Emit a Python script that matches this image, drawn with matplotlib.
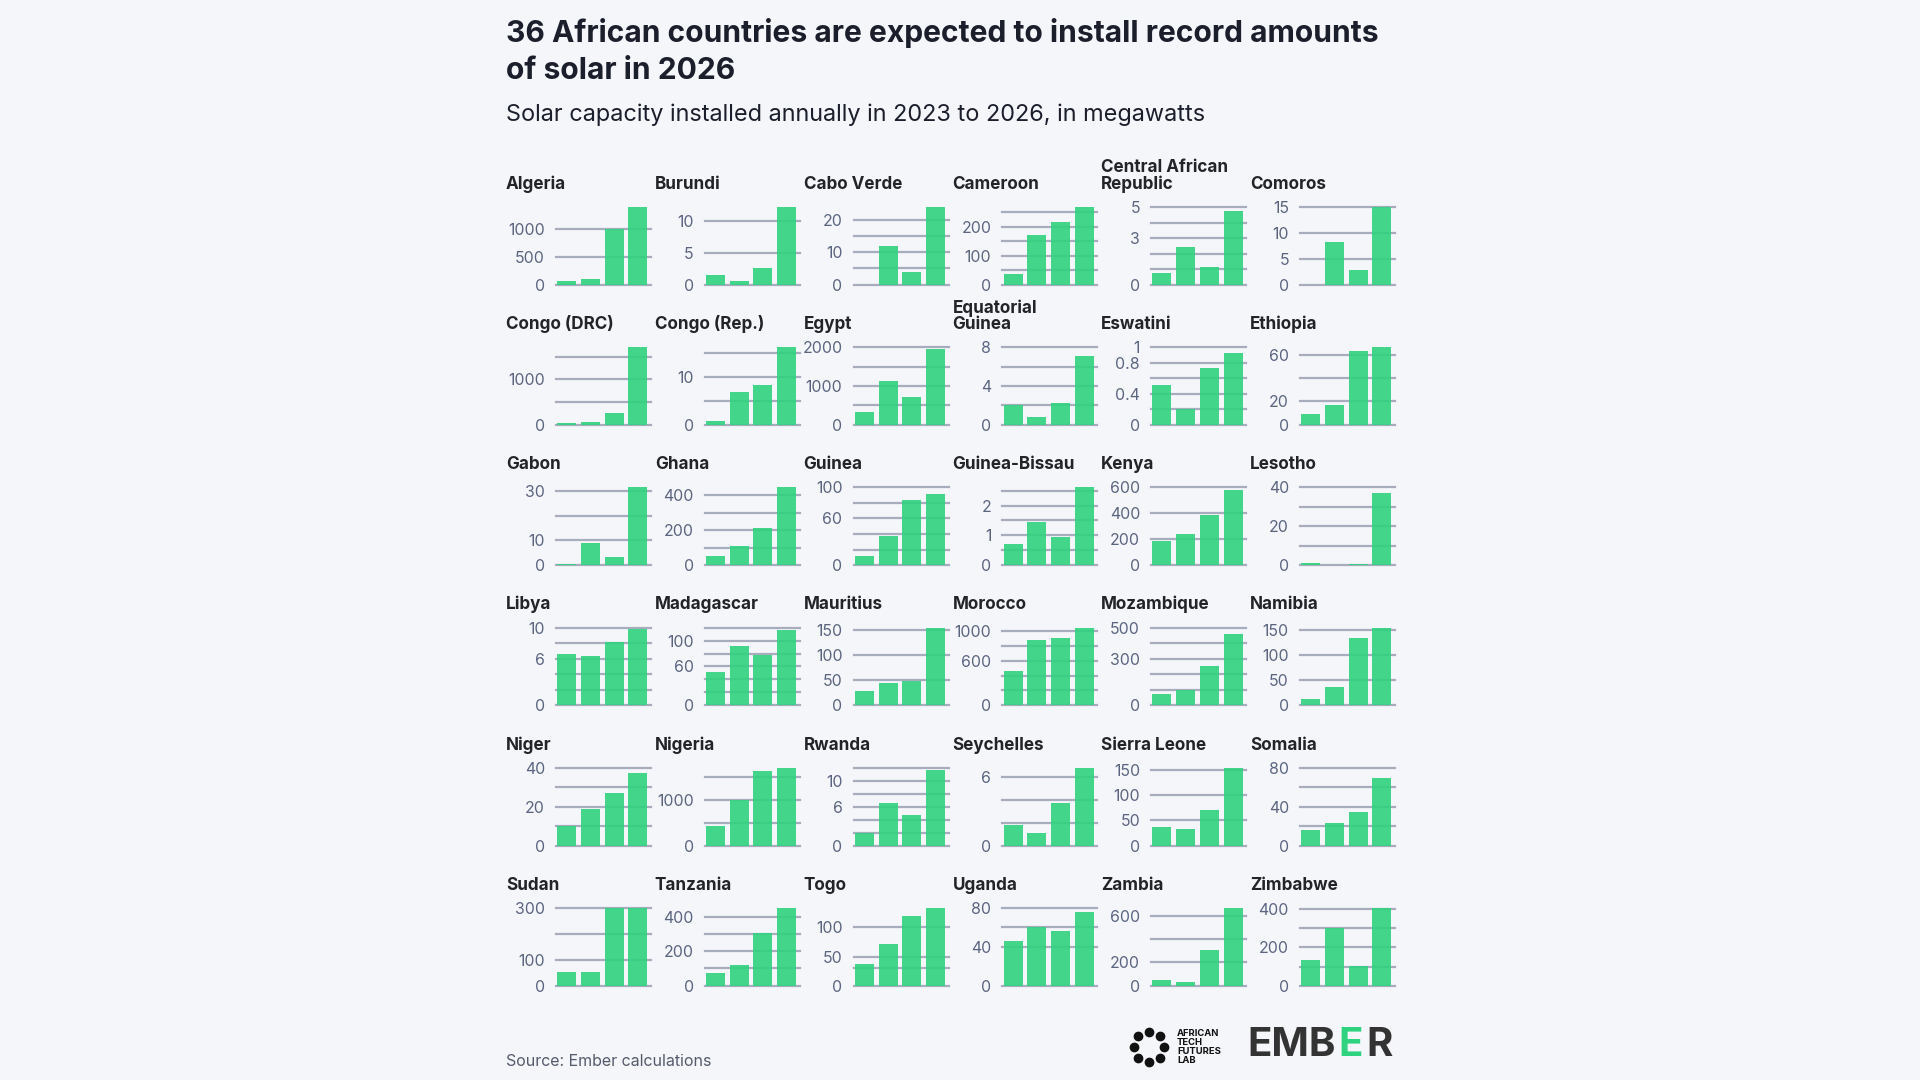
import matplotlib
matplotlib.use("Agg")
import matplotlib.pyplot as plt
import numpy as np

# data (MW installed per year)
countries = ["Algeria", "Burundi", "Cabo Verde", "Cameroon", "Central African\nRepublic", "Comoros",
             "Congo (DRC)", "Congo (Rep.)", "Egypt", "Equatorial\nGuinea", "Eswatini", "Ethiopia",
             "Gabon", "Ghana", "Guinea", "Guinea-Bissau", "Kenya", "Lesotho",
             "Libya", "Madagascar", "Mauritius", "Morocco", "Mozambique", "Namibia",
             "Niger", "Nigeria", "Rwanda", "Seychelles", "Sierra Leone", "Somalia",
             "Sudan", "Tanzania", "Togo", "Uganda", "Zambia", "Zimbabwe"]

y2023 = [75, 1.6, 0, 36, 0.75, 0,
         35, 0.9, 333, 2.07, 0.52, 9.5,
         0.5, 51, 12, 0.72, 184, 1.0,
         6.6, 51, 28, 461, 72, 13,
         10, 424, 1.9, 1.8, 36, 16,
         51, 76, 37, 46, 50, 133]
y2024 = [99, 0.65, 12, 171, 2.4, 8.3,
         60, 6.9, 1142, 0.83, 0.21, 16.6,
         9, 111, 37, 1.45, 239, 0.2,
         6.4, 92, 45, 885, 99, 37,
         18.7, 1008, 6.5, 1.1, 33, 23,
         51, 122, 72, 60, 29, 299]
y2025 = [1000, 2.7, 3.8, 215, 1.15, 2.9,
         263, 8.3, 708, 2.27, 0.73, 63,
         3.4, 211, 84, 0.93, 386, 0.8,
         8.2, 78, 49, 903, 253, 134,
         26.9, 1644, 4.75, 3.7, 70, 34,
         300, 307, 119, 56, 303, 103]
y2026 = [1398, 12.2, 23.9, 268, 4.75, 15,
         1707, 16.2, 1950, 7.07, 0.93, 66.3,
         31.5, 445, 92, 2.61, 577, 37,
         9.8, 117, 154, 1046, 456, 155,
         37.5, 1705, 11.6, 6.76, 155, 70,
         300, 450, 133, 76, 665, 406]

grid_lines = [[0, 500, 1000], [0, 5, 10], [0, 5, 10, 15, 20], [0, 50, 100, 150, 200, 250],
              [0, 1, 2, 3, 4, 5], [0, 5, 10, 15],
              [0, 500, 1000, 1500], [0, 5, 10, 15], [0, 500, 1000, 1500, 2000], [0, 2, 4, 6, 8],
              [0, 0.2, 0.4, 0.6, 0.8, 1], [0, 20, 40, 60],
              [0, 10, 20, 30], [0, 100, 200, 300, 400], [0, 20, 40, 60, 80, 100],
              [0, 0.5, 1, 1.5, 2, 2.5], [0, 200, 400, 600], [0, 10, 20, 30, 40],
              [0, 2, 4, 6, 8, 10], [0, 20, 40, 60, 80, 100, 120], [0, 50, 100, 150],
              [0, 200, 400, 600, 800, 1000], [0, 100, 200, 300, 400, 500], [0, 50, 100, 150],
              [0, 10, 20, 30, 40], [0, 500, 1000, 1500], [0, 2, 4, 6, 8, 10, 12], [0, 2, 4, 6],
              [0, 50, 100, 150], [0, 20, 40, 60, 80],
              [0, 100, 200, 300], [0, 100, 200, 300, 400], [0, 30, 50, 100], [0, 40, 60, 80],
              [0, 200, 400, 600], [0, 100, 200, 300, 400]]

tick_labels = [[0, 500, 1000], [0, 5, 10], [0, 10, 20], [0, 100, 200], [0, 3, 5], [0, 5, 10, 15],
               [0, 1000], [0, 10], [0, 1000, 2000], [0, 4, 8], [0, 0.4, 0.8, 1], [0, 20, 60],
               [0, 10, 30], [0, 200, 400], [0, 60, 100], [0, 1, 2], [0, 200, 400, 600], [0, 20, 40],
               [0, 6, 10], [0, 60, 100], [0, 50, 100, 150], [0, 600, 1000], [0, 300, 500], [0, 50, 100, 150],
               [0, 20, 40], [0, 1000], [0, 6, 10], [0, 6], [0, 50, 100, 150], [0, 40, 80],
               [0, 100, 300], [0, 200, 400], [0, 50, 100], [0, 40, 80], [0, 200, 600], [0, 200, 400]]

title = "36 African countries are expected to install record amounts\nof solar in 2026"
subtitle = "Solar capacity installed annually in 2023 to 2026, in megawatts"
source = "Source: Ember calculations"

bg = "#f5f6fa"
green = "#2fd37f"
grid_c = "#a7adbd"
tick_c = "#5b6580"
dark = "#1b1e2b"

plt.rcParams["font.family"] = ["Inter", "DejaVu Sans"]

W, H = 1920, 1080
fig = plt.figure(figsize=(19.2, 10.8), dpi=100)
fig.patch.set_facecolor(bg)

fig.text(506 / W, 1 - 18 / H, title, ha="left", va="top", fontsize=21.6,
         fontweight="bold", color=dark, linespacing=1.42)
fig.text(506 / W, 1 - 115 / H, subtitle, ha="left", va="center", fontsize=16.9, color=dark)

for i, name in enumerate(countries):
    r, c = divmod(i, 6)
    left = 556 + 148.8 * c
    bottom = 284.7 + 140.2 * r
    ax = fig.add_axes([left / W, 1 - bottom / H, 95 / W, 80 / H])
    ax.patch.set_alpha(0)
    vals = [y2023[i], y2024[i], y2025[i], y2026[i]]
    for g in grid_lines[i]:
        ax.axhline(g, color=grid_c, lw=1.6, zorder=1, clip_on=False)
    ax.bar(range(4), vals, width=0.8, color=green, alpha=0.9, zorder=2)
    top = max(max(vals), max(grid_lines[i]))
    ax.set_ylim(0, top * 1.03)
    ax.set_xlim(-0.45, 3.55)
    ax.set_xticks([])
    ax.set_yticks(tick_labels[i])
    ax.set_yticklabels([f"{v:g}" for v in tick_labels[i]])
    ax.tick_params(axis="y", length=0, pad=8, labelsize=11.4, labelcolor=tick_c)
    for s in ax.spines.values():
        s.set_visible(False)
    fig.text((left - 50) / W, 1 - (bottom - 80 - 12) / H, name, ha="left", va="bottom",
             fontsize=12.3, fontweight="bold", color="#222428", linespacing=0.95)

fig.text(506 / W, 1 - 1062 / H, source, ha="left", va="center", fontsize=11.5, color="#555b6b")

# logos
ang = np.linspace(0, 2 * np.pi, 8, endpoint=False)
fig.add_artist(plt.Line2D((1149 + 15 * np.cos(ang)) / W, 1 - (1047 + 15 * np.sin(ang)) / H,
                          ls="none", marker="o", ms=6, color="#111111"))
fig.text(1177 / W, 1 - 1047 / H, "AFRICAN\nTECH\nFUTURES\nLAB", ha="left", va="center",
         fontsize=6.8, fontweight="bold", color="#111111", linespacing=1.0)
fig.text(1247 / W, 1 - 1046 / H, "EMB", ha="left", va="center", fontsize=29,
         fontweight="bold", color="#333333")
fig.text(1338 / W, 1 - 1046 / H, "E", ha="left", va="center", fontsize=29,
         fontweight="bold", color=green)
fig.text(1366 / W, 1 - 1046 / H, "R", ha="left", va="center", fontsize=29,
         fontweight="bold", color="#333333")

fig.savefig("out.png", dpi=100, facecolor=bg)
